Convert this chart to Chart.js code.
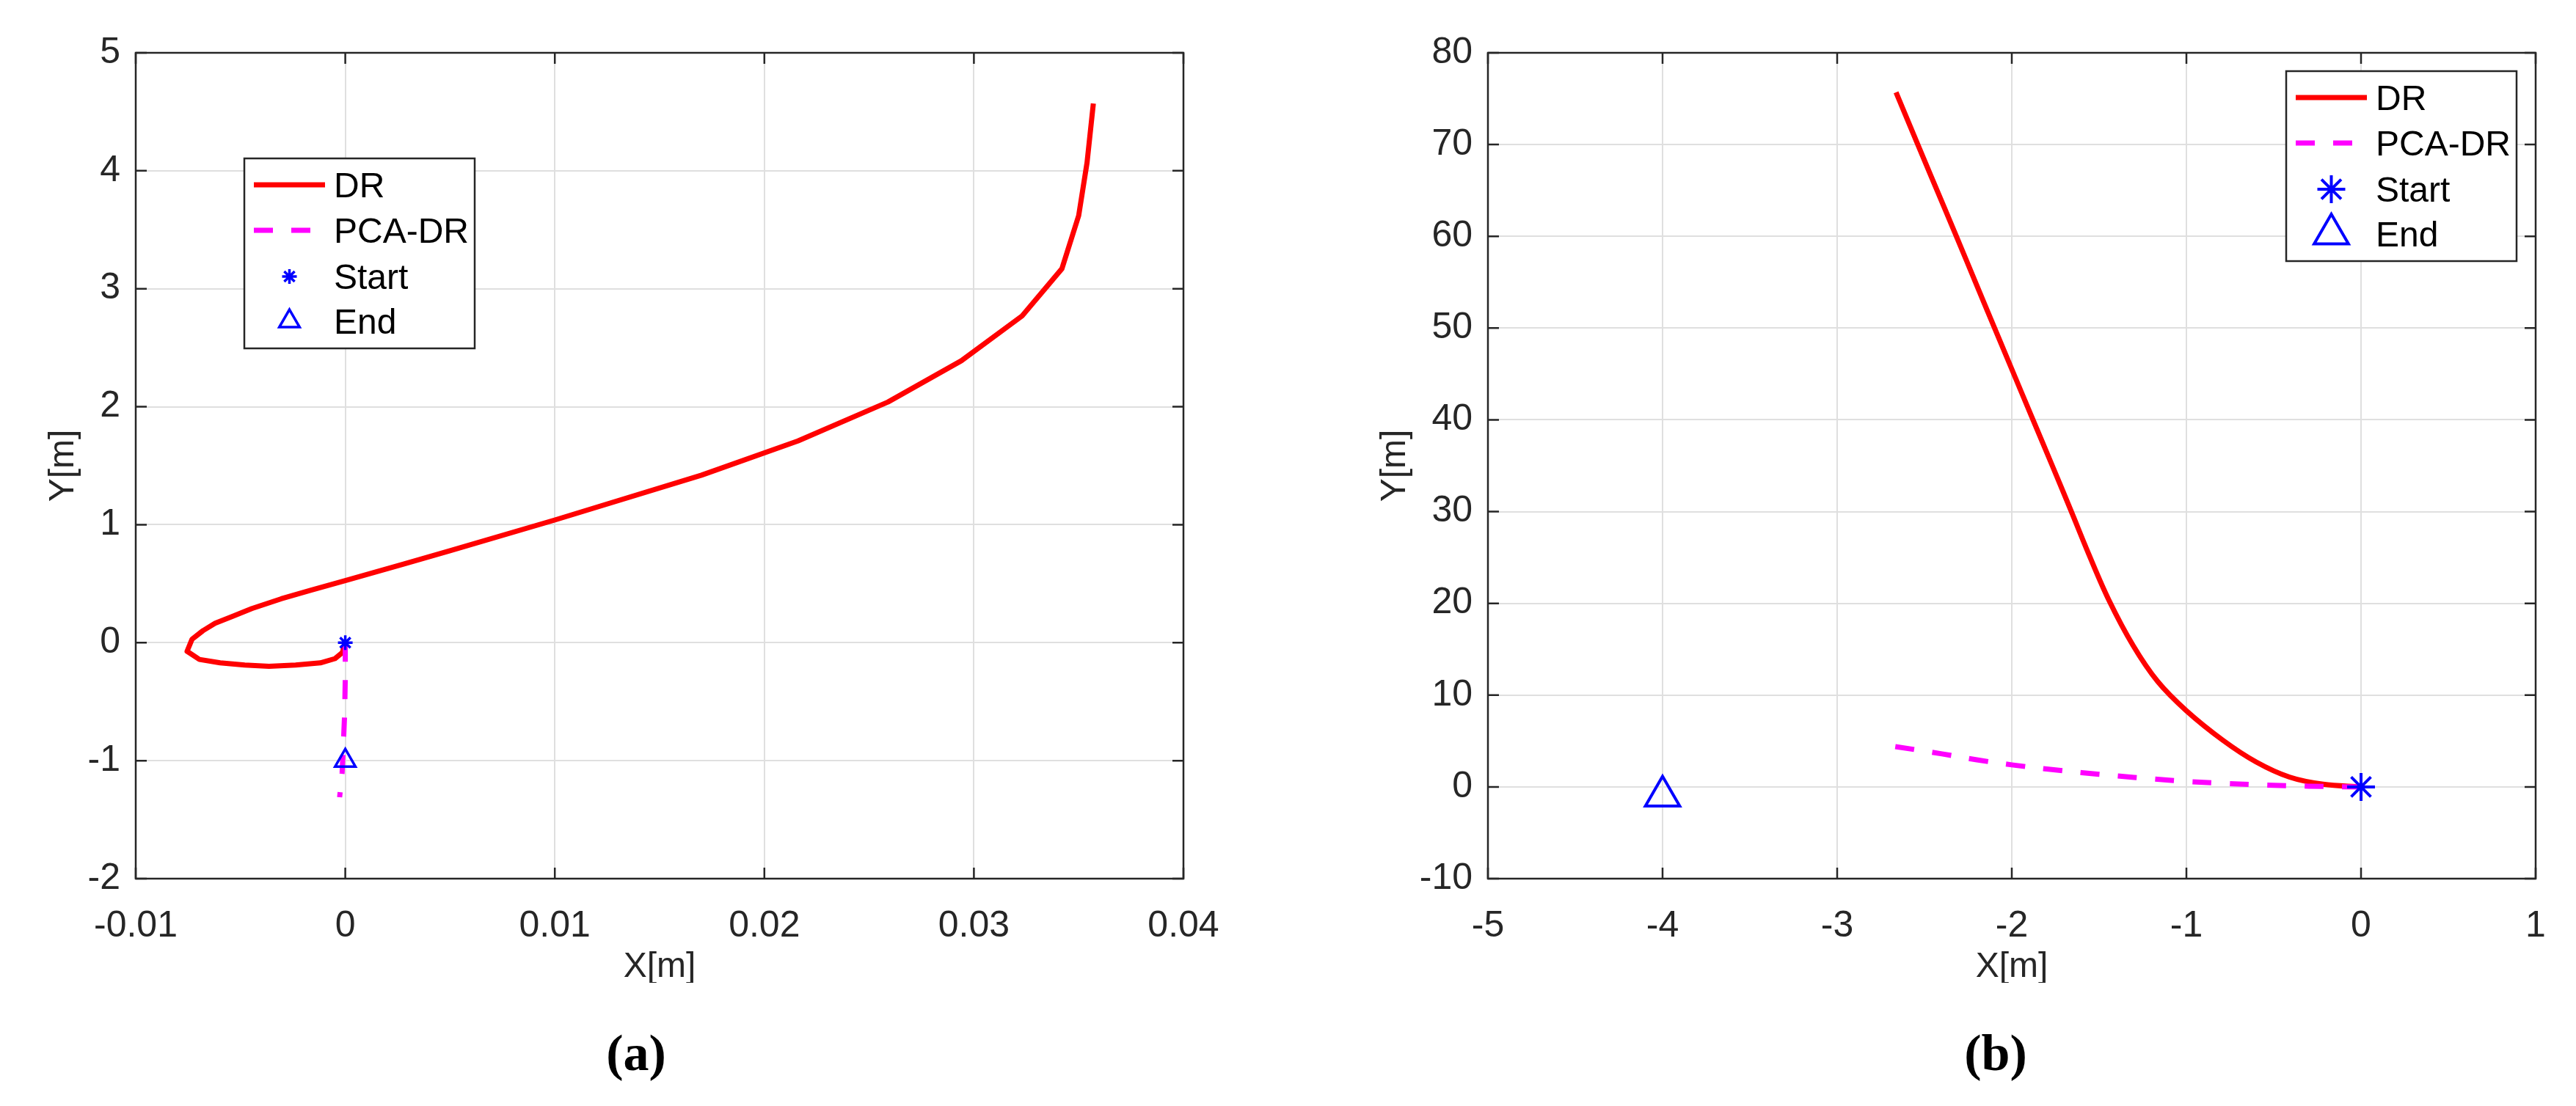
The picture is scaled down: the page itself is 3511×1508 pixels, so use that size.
<!DOCTYPE html>
<html><head><meta charset="utf-8">
<script src="https://cdn.jsdelivr.net/npm/chart.js@4.4.1/dist/chart.umd.min.js"></script>
<style>
html,body{margin:0;padding:0;background:#fff;}
body{width:3511px;height:1508px;position:relative;overflow:hidden;}
canvas{position:absolute;top:0;}
#ca{left:0;} #cb{left:1755px;}
.cap{position:absolute;font-family:'Liberation Serif','Times New Roman',serif;font-weight:bold;font-size:70px;line-height:70px;width:400px;text-align:center;top:1401px;color:#000;}
</style></head><body>
<canvas id="ca" width="1755" height="1340"></canvas>
<canvas id="cb" width="1756" height="1340"></canvas>
<div class="cap" style="left:667px">(a)</div>
<div class="cap" style="left:2520px">(b)</div>
<script>
// ---------- data ----------
const seriesNames = ['DR', 'PCA-DR', 'Start', 'End'];
const axisTitles = ['X[m]', 'Y[m]'];

// panel (a)
const aDRx = [0, -0.00014, -0.00049, -0.00119, -0.00237, -0.00364, -0.0048, -0.00597, -0.00696, -0.00755, -0.00731, -0.00679, -0.00621, -0.00539, -0.00446, -0.00306, -0.00166, 0.0, 0.00278, 0.005, 0.01, 0.017, 0.0216, 0.0259, 0.0294, 0.0323, 0.0342, 0.035, 0.0354, 0.0357];
const aDRy = [0, -0.084, -0.135, -0.171, -0.19, -0.2, -0.19, -0.171, -0.142, -0.073, 0.03, 0.102, 0.165, 0.222, 0.289, 0.372, 0.444, 0.527, 0.666, 0.78, 1.04, 1.42, 1.71, 2.04, 2.39, 2.77, 3.17, 3.62, 4.07, 4.57];
const aPCAx = [0, 0, -0.00003, -0.0001, -0.00015, -0.00027];
const aPCAy = [0, -0.3, -0.6, -0.9, -1.1, -1.31];
const aStart = [0, 0];
const aEnd = [0, -1];
const aXTicks = [-0.01, 0, 0.01, 0.02, 0.03, 0.04];
const aYTicks = [-2, -1, 0, 1, 2, 3, 4, 5];

// panel (b)
const bDRx = [0, -0.217, -0.41, -0.6, -0.79, -1.0, -1.165, -1.305, -1.445, -1.56, -1.66, -1.768, -1.883, -2.005, -2.138, -2.256, -2.388, -2.536, -2.663];
const bDRy = [0, 0.29, 1.07, 2.71, 5.07, 8.3, 11.5, 15.4, 20.4, 25.4, 30.05, 35.0, 40.2, 45.75, 51.8, 57.2, 63.2, 69.9, 75.7];
const bPCAx = [0, -0.2, -0.4, -0.6, -0.8, -1.0, -1.2, -1.4, -1.6, -1.8, -2.0, -2.2, -2.4, -2.67];
const bPCAy = [0, 0.04, 0.12, 0.24, 0.4, 0.6, 0.88, 1.2, 1.55, 1.95, 2.4, 2.95, 3.6, 4.4];
const bStart = [0, 0];
const bEnd = [-4, -1];
const bXTicks = [-5, -4, -3, -2, -1, 0, 1];
const bYTicks = [-10, 0, 10, 20, 30, 40, 50, 60, 70, 80];

// ---------- helpers ----------
const FAM = "'Liberation Sans', Arial, Helvetica, sans-serif";
const AXC = '#262626';
const zip = (xs, ys) => xs.map((x, i) => ({x: x, y: ys[i]}));

function drawMarker(ctx, style, r, bw, x, y) {
  if (Chart.helpers && Chart.helpers.drawPoint) {
    Chart.helpers.drawPoint(ctx, {pointStyle: style, radius: r, rotation: 0, borderWidth: bw}, x, y);
    return;
  }
  ctx.beginPath();
  if (style === 'star') {
    for (let k = 0; k < 4; k++) {
      const a = k * Math.PI / 4;
      ctx.moveTo(x - Math.cos(a) * r, y - Math.sin(a) * r);
      ctx.lineTo(x + Math.cos(a) * r, y + Math.sin(a) * r);
    }
  } else {
    let a = 0;
    ctx.moveTo(x + Math.sin(a) * r, y - Math.cos(a) * r);
    a += 2 * Math.PI / 3; ctx.lineTo(x + Math.sin(a) * r, y - Math.cos(a) * r);
    a += 2 * Math.PI / 3; ctx.lineTo(x + Math.sin(a) * r, y - Math.cos(a) * r);
    ctx.closePath();
  }
  ctx.stroke();
}

const framePlugin = {
  id: 'frame',
  beforeDatasetsDraw(chart) {
    const {ctx, chartArea: a, scales: {x, y}} = chart;
    ctx.save();
    ctx.strokeStyle = AXC;
    ctx.lineWidth = 2.5;
    ctx.lineCap = 'butt';
    const L = 15;
    ctx.beginPath();
    x.ticks.forEach(t => {
      const px = x.getPixelForValue(t.value);
      ctx.moveTo(px, a.bottom); ctx.lineTo(px, a.bottom - L);
      ctx.moveTo(px, a.top); ctx.lineTo(px, a.top + L);
    });
    y.ticks.forEach(t => {
      const py = y.getPixelForValue(t.value);
      ctx.moveTo(a.left, py); ctx.lineTo(a.left + L, py);
      ctx.moveTo(a.right, py); ctx.lineTo(a.right - L, py);
    });
    ctx.stroke();
    ctx.strokeRect(a.left, a.top, a.right - a.left, a.bottom - a.top);
    ctx.restore();
  },
  afterDraw(chart, args, opts) {
    const {ctx, chartArea: a} = chart;
    const bx = opts.fromRight ? a.right - opts.dx : a.left + opts.dx;
    const by = a.top + opts.dy;
    const W = 314, H = 259;
    const rows = [36, 98, 161, 222];
    ctx.save();
    ctx.fillStyle = '#ffffff';
    ctx.fillRect(bx, by, W, H);
    ctx.strokeStyle = AXC;
    ctx.lineWidth = 2.5;
    ctx.strokeRect(bx, by, W, H);
    chart.data.datasets.forEach((ds, i) => {
      const ry = by + rows[i];
      ctx.save();
      if (ds.showLine) {
        ctx.strokeStyle = ds.borderColor;
        ctx.lineWidth = ds.borderWidth;
        ctx.lineCap = 'butt';
        ctx.setLineDash(ds.borderDash || []);
        ctx.beginPath();
        ctx.moveTo(bx + 13, ry); ctx.lineTo(bx + 110, ry);
        ctx.stroke();
      } else {
        ctx.strokeStyle = ds.pointBorderColor;
        ctx.fillStyle = 'rgba(0,0,0,0)';
        ctx.lineWidth = ds.pointBorderWidth;
        drawMarker(ctx, ds.pointStyle, ds.pointRadius, ds.pointBorderWidth, bx + 61.5, ry);
      }
      ctx.restore();
      ctx.fillStyle = '#000000';
      ctx.font = '48px ' + FAM;
      ctx.textAlign = 'left';
      ctx.textBaseline = 'alphabetic';
      ctx.fillText(ds.label, bx + 122, ry + 17);
    });
    ctx.restore();
  }
};

function makeChart(id, p) {
  const datasets = [
    {label: seriesNames[0], data: zip(p.drx, p.dry), showLine: true, borderColor: '#ff0000', borderWidth: 7,
     borderDash: [], pointRadius: 0, tension: p.tension, borderJoinStyle: 'round', borderCapStyle: 'butt', order: 3},
    {label: seriesNames[1], data: zip(p.pcax, p.pcay), showLine: true, borderColor: '#ff00ff', borderWidth: 7,
     borderDash: [26, 25], pointRadius: 0, tension: p.tension, borderCapStyle: 'butt', order: 2},
    {label: seriesNames[2], data: [{x: p.start[0], y: p.start[1]}], showLine: false, pointStyle: 'star',
     pointRadius: p.starR, pointBorderWidth: p.mbw, pointBorderColor: '#0000ff', pointBackgroundColor: 'rgba(0,0,0,0)', order: 1},
    {label: seriesNames[3], data: [{x: p.end[0], y: p.end[1]}], showLine: false, pointStyle: 'triangle',
     pointRadius: p.triR, pointBorderWidth: p.mbw, pointBorderColor: '#0000ff', pointBackgroundColor: 'rgba(0,0,0,0)', order: 0}
  ];
  const tickFont = {family: FAM, size: 50};
  const titleFont = {family: FAM, size: 48, lineHeight: 0.875};
  return new Chart(document.getElementById(id), {
    type: 'scatter',
    data: {datasets: datasets},
    plugins: [framePlugin],
    options: {
      responsive: false, animation: false, devicePixelRatio: 1,
      layout: {padding: {left: 0, top: 72, right: p.padRight, bottom: 0}},
      plugins: {legend: {display: false}, tooltip: {enabled: false},
        frame: {dx: p.legDx, dy: p.legDy, fromRight: p.legFromRight}},
      scales: {
        x: {
          type: 'linear', min: p.xTicks[0], max: p.xTicks[p.xTicks.length - 1],
          afterBuildTicks: s => { s.ticks = p.xTicks.map(v => ({value: v})); },
          afterFit: s => { s.height = 142; },
          grid: {color: '#dfdfdf', lineWidth: 2, drawTicks: false},
          border: {display: false},
          ticks: {color: AXC, font: tickFont, padding: 35, maxRotation: 0, autoSkip: false, callback: v => String(v)},
          title: {display: true, text: axisTitles[0], color: AXC, font: titleFont, padding: {top: 0, bottom: 0}}
        },
        y: {
          type: 'linear', min: p.yTicks[0], max: p.yTicks[p.yTicks.length - 1],
          afterBuildTicks: s => { s.ticks = p.yTicks.map(v => ({value: v})); },
          afterFit: s => { s.width = p.yW; },
          grid: {color: '#dfdfdf', lineWidth: 2, drawTicks: false},
          border: {display: false},
          ticks: {color: AXC, font: tickFont, padding: 21, autoSkip: false, callback: v => String(v)},
          title: {display: true, text: axisTitles[1], color: AXC, font: {family: FAM, size: 48, lineHeight: 1}, padding: {top: p.yTitlePad, bottom: 0}}
        }
      }
    }
  });
}

makeChart('ca', {drx: aDRx, dry: aDRy, pcax: aPCAx, pcay: aPCAy, start: aStart, end: aEnd,
  xTicks: aXTicks, yTicks: aYTicks, yW: 185, padRight: 142, yTitlePad: 63, tension: 0,
  starR: 10, triR: 16, mbw: 3.5, legDx: 148, legDy: 144, legFromRight: false});
makeChart('cb', {drx: bDRx, dry: bDRy, pcax: bPCAx, pcay: bPCAy, start: bStart, end: bEnd,
  xTicks: bXTicks, yTicks: bYTicks, yW: 273, padRight: 55, yTitlePad: 123, tension: 0.35,
  starR: 19, triR: 27, mbw: 4, legDx: 340, legDy: 25, legFromRight: true});
</script>
</body></html>
